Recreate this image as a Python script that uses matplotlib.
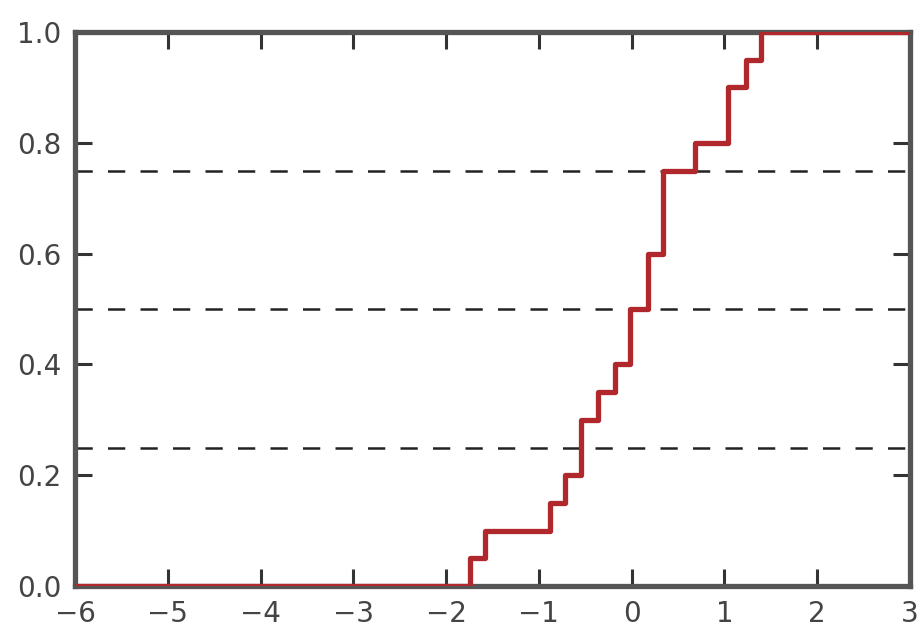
import numpy as np
import matplotlib.pyplot as plt

# sorted sample values (20 points, 0.05 each)
samples = [-1.745, -1.581, -0.883, -0.722, -0.550, -0.550, -0.363, -0.180,
           -0.016, -0.016, 0.174, 0.174, 0.335, 0.335, 0.335, 0.685,
           1.033, 1.033, 1.230, 1.391]
quartiles = [0.25, 0.5, 0.75]
x_lim = (-6, 3)

xs = np.sort(np.array(samples))
ys = np.arange(1, len(xs) + 1) / len(xs)
xs = np.concatenate([[x_lim[0]], xs, [x_lim[1]]])
ys = np.concatenate([[0.0], ys, [1.0]])

fig = plt.figure(figsize=(9.24, 6.33), dpi=100)
ax = fig.add_axes([75 / 924, 1 - 586 / 633, 835 / 924, 554 / 633])

ax.step(xs, ys, where='post', color='#b0272c', lw=3.8, zorder=3)
for q in quartiles:
    ax.axhline(q, color='#222222', ls=(0, (6.9, 6.1)), lw=1.8, zorder=2)

ax.set_xlim(*x_lim)
ax.set_ylim(0, 1)
ax.set_xticks(range(-6, 4))
ax.set_yticks([0.0, 0.2, 0.4, 0.6, 0.8, 1.0])
ax.set_yticklabels(['0.0', '0.2', '0.4', '0.6', '0.8', '1.0'])
for s in ax.spines.values():
    s.set_color('#555555')
    s.set_linewidth(3.8)
ax.tick_params(direction='in', top=True, right=True, length=12, width=2.2,
               color='#333333', labelsize=20, labelcolor='#444444', pad=10)

fig.savefig('out.png', dpi=100)
